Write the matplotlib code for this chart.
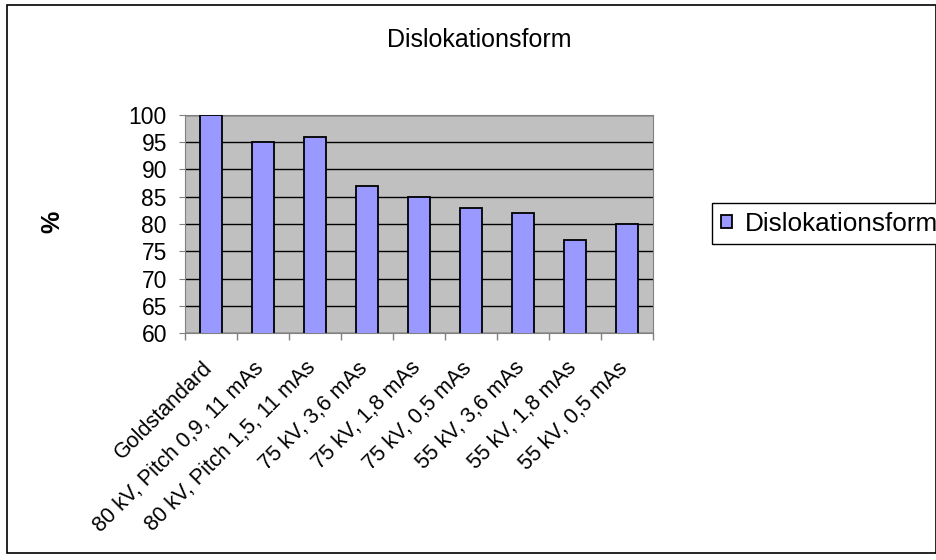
import matplotlib
matplotlib.use("Agg")
import matplotlib.pyplot as plt
import matplotlib.transforms as mtransforms
from matplotlib.patches import Rectangle

# categories and values
labels = ["Goldstandard", "80 kV, Pitch 0,9, 11 mAs", "80 kV, Pitch 1,5, 11 mAs",
          "75 kV, 3,6 mAs", "75 kV, 1,8 mAs", "75 kV, 0,5 mAs",
          "55 kV, 3,6 mAs", "55 kV, 1,8 mAs", "55 kV, 0,5 mAs"]
values = [100, 95, 96, 87, 85, 83, 82, 77, 80]
yticks = [60, 65, 70, 75, 80, 85, 90, 95, 100]

plt.rcParams['font.family'] = ['Liberation Sans', 'DejaVu Sans']

fig = plt.figure(figsize=(9.37, 5.6), dpi=100)
W, H = 937, 560
ax = fig.add_axes([185 / W, 1 - 333 / H, (653 - 185) / W, (333 - 115) / H])
ax.set_facecolor("#c0c0c0")

x = list(range(len(values)))
ax.bar(x, values, width=0.44, color="#9999ff", edgecolor="black",
       linewidth=1.3, zorder=3, label="Dislokationsform")
ax.set_xlim(-0.5, len(values) - 0.5)
ax.set_ylim(60, 100)
ax.set_yticks(yticks)
ax.tick_params(axis='y', labelsize=16.5, length=4, color="#808080", pad=9)
ax.yaxis.grid(True, color="black", linewidth=1, zorder=1)
ax.set_axisbelow(True)

# category boundaries get the tick marks, labels sit under the bars
ax.set_xticks([i + 0.5 for i in range(-1, len(values))])
ax.set_xticklabels([])
ax.tick_params(axis='x', length=5, direction='out', color="#808080", width=1)
ax.set_xticks(x, minor=True)
ax.set_xticklabels(labels, minor=True, rotation=45, ha='right', va='center',
                   rotation_mode='anchor', fontsize=15.5)
ax.tick_params(axis='x', which='minor', length=0, pad=23)
shift = mtransforms.ScaledTranslation(-2 / 100, 0, fig.dpi_scale_trans)
for t in ax.get_xticklabels(minor=True):
    t.set_transform(t.get_transform() + shift)

for s in ax.spines.values():
    s.set_color("#808080")

fig.text(52 / W, 1 - 222 / H, "%", rotation=90, ha='center', va='center',
         fontsize=18, fontweight='bold')

fig.text(479 / W, 1 - 47 / H, "Dislokationsform", ha='center', va='baseline', fontsize=18)

fig.legend(loc='upper left', bbox_to_anchor=(712 / W, 1 - 203 / H), fontsize=18.8,
           frameon=True, fancybox=False, edgecolor="black", framealpha=1,
           handlelength=0.42, handleheight=0.42, handletextpad=0.5,
           borderpad=0.33, borderaxespad=0)

fig.patches.append(Rectangle((7 / W, 7 / H), (936 - 7) / W, (555 - 7) / H, transform=fig.transFigure,
                             fill=False, edgecolor="black", linewidth=1.2))

fig.savefig("out.png", dpi=100)
